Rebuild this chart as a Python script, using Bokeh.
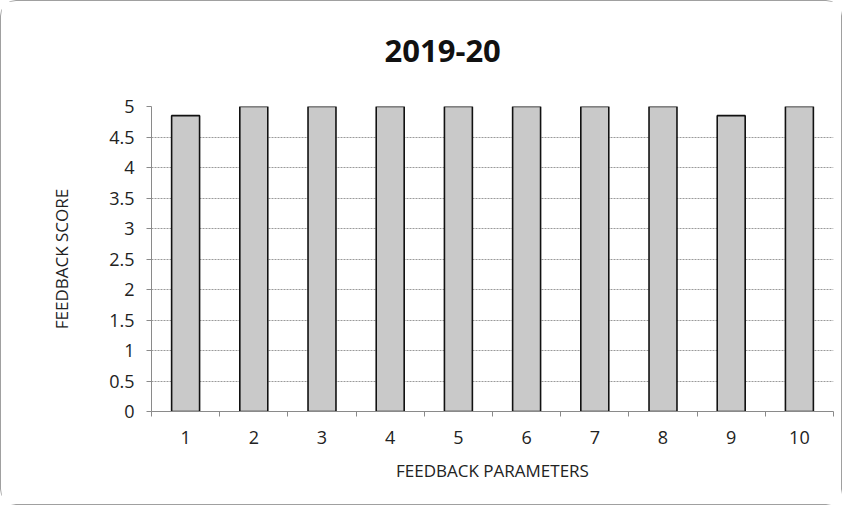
from bokeh.plotting import figure
from bokeh.models import Range1d, FixedTicker, ColumnDataSource, Title
from bokeh.embed import file_html
from bokeh.resources import INLINE

params = [1, 2, 3, 4, 5, 6, 7, 8, 9, 10]
scores = [4.85, 5, 5, 5, 5, 5, 5, 5, 4.85, 5]
y_ticks = [0, 0.5, 1, 1.5, 2, 2.5, 3, 3.5, 4, 4.5, 5]
y_labels = ["0", "0.5", "1", "1.5", "2", "2.5", "3", "3.5", "4", "4.5", "5"]

FONT = "Open Sans"

p = figure(width=842, height=505, output_backend="svg", toolbar_location=None,
           x_range=Range1d(0.5, 10.5), y_range=Range1d(0, 5),
           min_border_left=150, min_border_right=10, min_border_top=105, min_border_bottom=95)
p.styles = {"border": "1px solid #a0a0a0", "border-radius": "16px"}

src = ColumnDataSource(dict(x=params, top=scores))
p.vbar(x="x", top="top", width=0.41, bottom=0, source=src,
       fill_color="#c9c9c9", line_color="#111111", line_width=1.6)

spacer = Title(text=" ", text_font=FONT, text_font_size="32px", standoff=0)
p.add_layout(spacer, "above")
t = Title(text="2019-20", align="left", text_font=FONT, text_font_size="31px",
          text_font_style="bold", text_color="#111111", offset=233, standoff=0)
p.add_layout(t, "above")

p.outline_line_color = None
p.xgrid.grid_line_color = None
p.ygrid.grid_line_color = "#9a9a9a"
p.ygrid.grid_line_dash = "2 1"
p.ygrid.grid_line_width = 1

p.yaxis.ticker = FixedTicker(ticks=y_ticks)
p.yaxis.major_label_overrides = {t_: l for t_, l in zip(y_ticks, y_labels)}
p.yaxis.axis_line_color = "#8a8a8a"
p.yaxis.major_tick_line_color = "#8a8a8a"
p.yaxis.major_tick_out = 5
p.yaxis.major_tick_in = 0
p.yaxis.minor_tick_line_color = None
p.yaxis.major_label_text_font = FONT
p.yaxis.major_label_text_font_size = "18px"
p.yaxis.major_label_text_color = "#222222"
p.yaxis.major_label_standoff = 12
p.yaxis.axis_label = "FEEDBACK SCORE"
p.yaxis.axis_label_text_font = FONT
p.yaxis.axis_label_text_font_style = "normal"
p.yaxis.axis_label_text_font_size = "17px"
p.yaxis.axis_label_text_color = "#222222"
p.yaxis.axis_label_standoff = 33

p.xaxis.ticker = FixedTicker(ticks=params, minor_ticks=[x + 0.5 for x in [0] + params])
p.xaxis.major_label_overrides = {x: str(x) for x in params}
p.xaxis.axis_line_color = "#8a8a8a"
p.xaxis.major_tick_line_color = None
p.xaxis.minor_tick_line_color = "#8a8a8a"
p.xaxis.minor_tick_out = 5
p.xaxis.minor_tick_in = 0
p.xaxis.major_label_text_font = FONT
p.xaxis.major_label_text_font_size = "18px"
p.xaxis.major_label_text_color = "#222222"
p.xaxis.major_label_standoff = 13
p.xaxis.axis_label = "FEEDBACK PARAMETERS"
p.xaxis.axis_label_text_font = FONT
p.xaxis.axis_label_text_font_style = "normal"
p.xaxis.axis_label_text_font_size = "17px"
p.xaxis.axis_label_text_color = "#222222"
p.xaxis.axis_label_standoff = 12

open("out.html", "w").write(file_html(p, INLINE))
